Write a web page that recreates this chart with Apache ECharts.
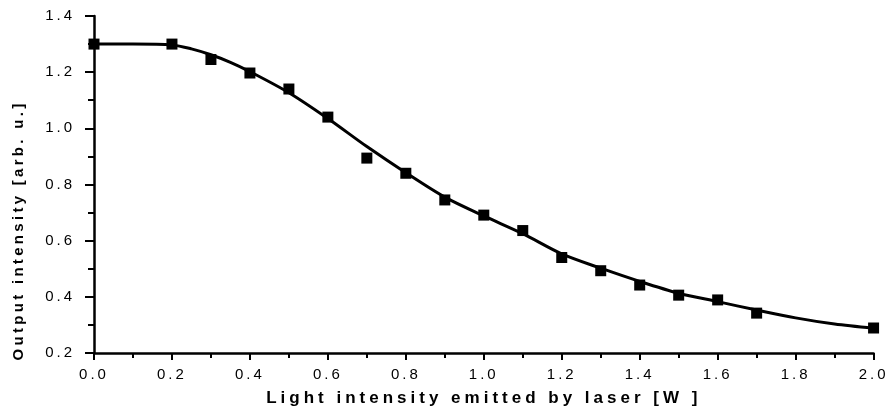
<!DOCTYPE html>
<html>
<head>
<meta charset="utf-8">
<script src="https://cdn.jsdelivr.net/npm/echarts@6/dist/echarts.min.js"></script>
<style>html,body{margin:0;padding:0;background:#fff}#c{width:887px;height:413px}</style>
</head>
<body>
<div id="c"></div>
<script>
// Measured data points (light intensity [W], output intensity [arb. u.])
const pointX = [0.0, 0.2, 0.3, 0.4, 0.5, 0.6, 0.7, 0.8, 0.9, 1.0, 1.1, 1.2, 1.3, 1.4, 1.5, 1.6, 1.7, 2.0];
const pointY = [1.30, 1.30, 1.245, 1.197, 1.14, 1.04, 0.894, 0.84, 0.745, 0.691, 0.636, 0.54, 0.493, 0.442, 0.406, 0.389, 0.342, 0.289];
// Fitted curve
const fitX = [0.0, 0.1, 0.2, 0.25, 0.3, 0.35, 0.4, 0.5, 0.6, 0.7, 0.8, 0.9, 1.0, 1.1, 1.2, 1.3, 1.4, 1.5, 1.6, 1.7, 1.8, 1.9, 2.0];
const fitY = [1.30, 1.30, 1.297, 1.283, 1.262, 1.235, 1.202, 1.127, 1.035, 0.935, 0.842, 0.755, 0.688, 0.625, 0.553, 0.502, 0.455, 0.413, 0.383, 0.353, 0.325, 0.303, 0.288];
const xTicks = [0.0, 0.2, 0.4, 0.6, 0.8, 1.0, 1.2, 1.4, 1.6, 1.8, 2.0];
const yTicks = [0.2, 0.4, 0.6, 0.8, 1.0, 1.2, 1.4];
const xTitle = 'Light intensity emitted by laser [W ]';
const yTitle = 'Output intensity [arb. u.]';

// wide letter spacing, as in the original typeset figure
(function () {
  const proto = CanvasRenderingContext2D.prototype;
  const orig = proto.fillText;
  proto.fillText = function (t, x, y, m) {
    if ('letterSpacing' in this) {
      const f = this.font;
      this.letterSpacing = /17px/.test(f) ? '4px' : (/bold/.test(f) ? '3.3px' : '3px');
    }
    return m === undefined ? orig.call(this, t, x, y) : orig.call(this, t, x, y, m);
  };
})();

const chart = echarts.init(document.getElementById('c'), null, { renderer: 'canvas' });
const font = '"Liberation Sans", Arial, sans-serif';
chart.setOption({
  animation: false,
  backgroundColor: '#fff',
  grid: { left: 94, right: 13, top: 16, bottom: 60, containLabel: false },
  xAxis: {
    type: 'value', min: 0, max: 2, interval: 0.2,
    name: xTitle, nameLocation: 'middle', nameGap: 37,
    nameTextStyle: { fontFamily: font, fontSize: 17, fontWeight: 'bold', color: '#000' },
    axisLine: { show: true, onZero: false, lineStyle: { color: '#000', width: 2.5, opacity: 1 } },
    splitLine: { show: false },
    minorSplitLine: { show: false },
    axisTick: { show: true, length: 7, lineStyle: { color: '#000', width: 2, opacity: 1 } },
    minorTick: { show: true, splitNumber: 2, length: 5, lineStyle: { color: '#000', width: 2, opacity: 1 } },
    axisLabel: { margin: 14, fontFamily: font, fontSize: 15, color: '#000',
      formatter: v => xTicks.some(t => Math.abs(t - v) < 1e-9) ? v.toFixed(1) : '' }
  },
  yAxis: {
    type: 'value', min: 0.2, max: 1.4, interval: 0.2,
    name: yTitle, nameLocation: 'middle', nameGap: 68, nameRotate: 90,
    nameTextStyle: { fontFamily: font, fontSize: 15, fontWeight: 'bold', color: '#000', padding: [0, 92, 0, 0] },
    axisLine: { show: true, onZero: false, lineStyle: { color: '#000', width: 2.5, opacity: 1 } },
    splitLine: { show: false },
    minorSplitLine: { show: false },
    axisTick: { show: true, length: 9, lineStyle: { color: '#000', width: 2, opacity: 1 } },
    minorTick: { show: true, splitNumber: 2, length: 6, lineStyle: { color: '#000', width: 2, opacity: 1 } },
    axisLabel: { margin: 19, fontFamily: font, fontSize: 15, color: '#000',
      formatter: v => yTicks.some(t => Math.abs(t - v) < 1e-9) ? v.toFixed(1) : '' }
  },
  series: [
    {
      type: 'line', name: 'fit', smooth: 0.3, showSymbol: false, symbol: 'none',
      data: fitX.map((x, i) => [x, fitY[i]]),
      lineStyle: { color: '#000', width: 3, opacity: 1 }, z: 2, silent: true
    },
    {
      type: 'scatter', name: 'data', symbol: 'rect', symbolSize: 11, clip: false,
      data: pointX.map((x, i) => [x, pointY[i]]),
      itemStyle: { color: '#000', opacity: 1 }, z: 3
    }
  ]
});
</script>
</body>
</html>
